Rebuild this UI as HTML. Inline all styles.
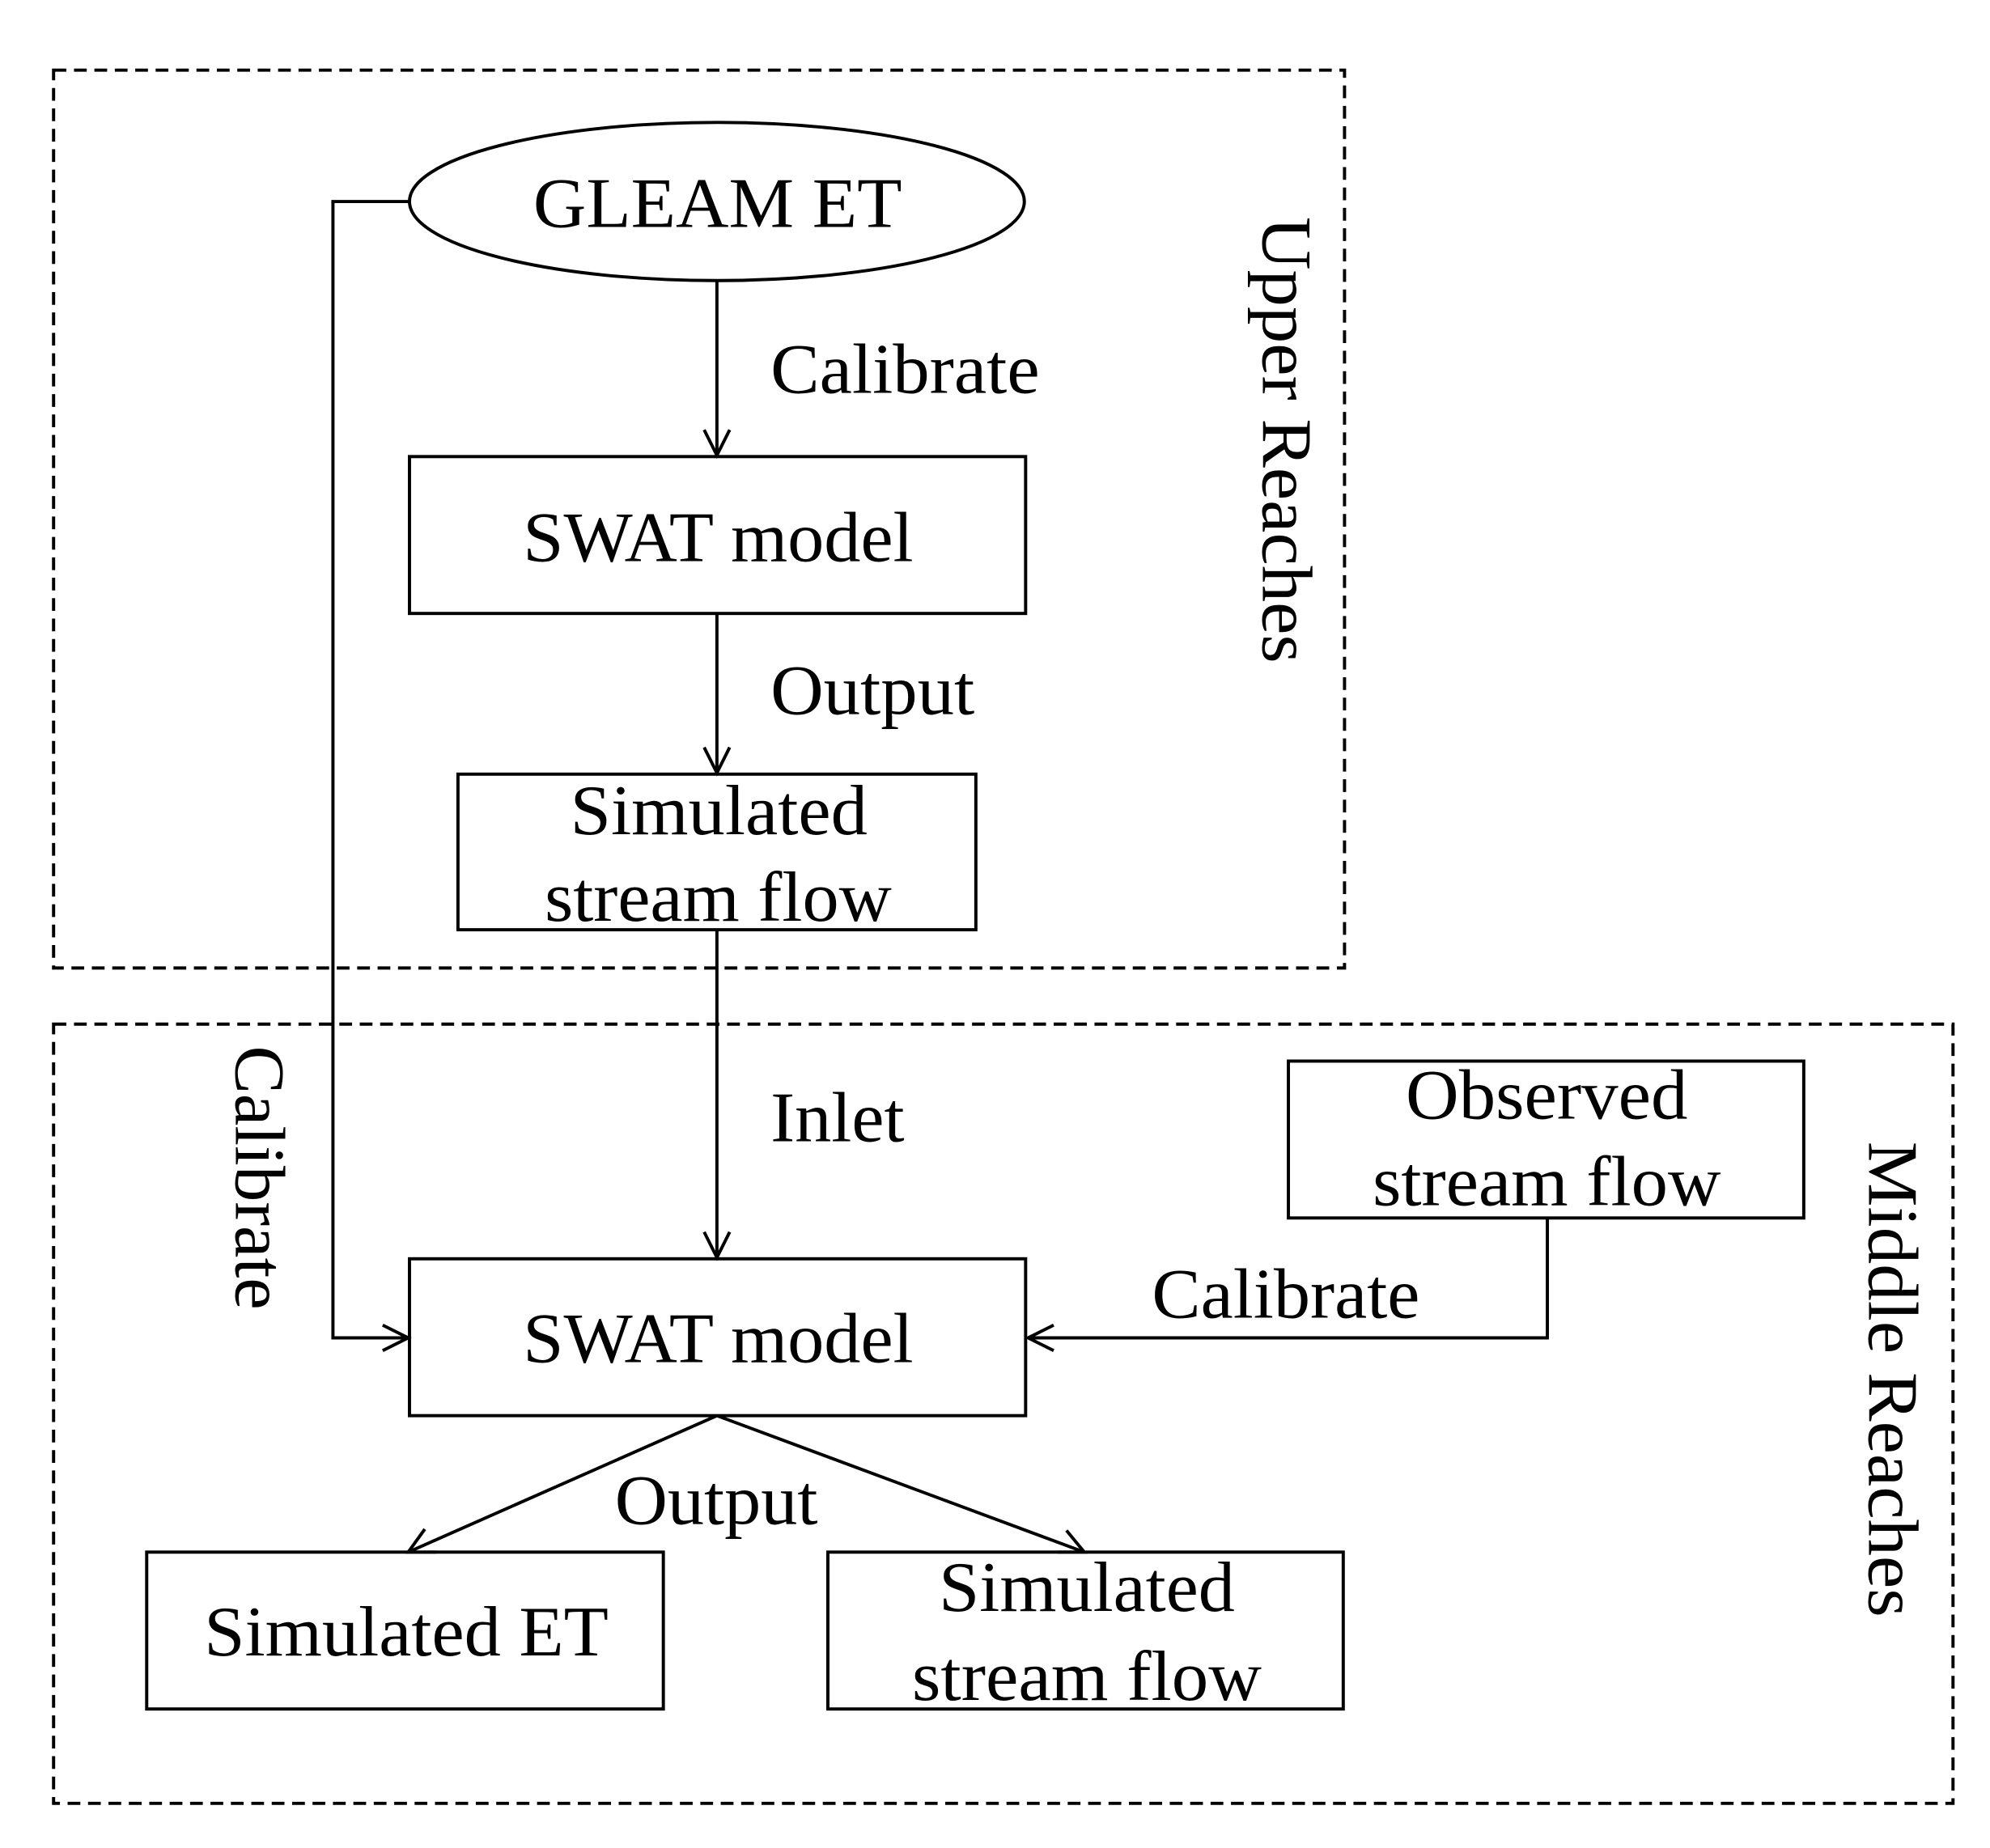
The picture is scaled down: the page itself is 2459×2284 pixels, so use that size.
<!DOCTYPE html>
<html><head><style>html,body{margin:0;padding:0;background:#fff}svg{display:block}</style></head>
<body>
<svg width="2459" height="2284" viewBox="0 0 1560 1449" preserveAspectRatio="none" xmlns="http://www.w3.org/2000/svg">
<rect width="1560" height="1449" fill="#fff"/>
<g fill="none" stroke="#000" stroke-width="2.5">
<rect x="42" y="55" width="1012" height="704" stroke-dasharray="10,6"/>
<rect x="42" y="803" width="1489" height="611" stroke-dasharray="10,6"/>
<ellipse cx="562" cy="158" rx="241" ry="62"/>
<rect x="321" y="358" width="483" height="123"/>
<rect x="359" y="607" width="406" height="122"/>
<rect x="321" y="987" width="483" height="123"/>
<rect x="1010" y="832" width="404" height="123"/>
<rect x="115" y="1217" width="405" height="123"/>
<rect x="649" y="1217" width="404" height="123"/>
<line x1="562" y1="220" x2="562" y2="357"/>
<polyline points="552,337 562,357 572,337"/>
<line x1="562" y1="481" x2="562" y2="606"/>
<polyline points="552,586 562,606 572,586"/>
<line x1="562" y1="729" x2="562" y2="986"/>
<polyline points="552,966 562,986 572,966"/>
<polyline points="321,158 261,158 261,1049 320,1049"/>
<polyline points="300,1039 320,1049 300,1059"/>
<polyline points="1213,955 1213,1049 806,1049"/>
<polyline points="826,1039 806,1049 826,1059"/>
<line x1="562" y1="1110" x2="320" y2="1217"/>
<polyline points="333,1199 320,1217 342,1217"/>
<line x1="562" y1="1110" x2="850" y2="1217"/>
<polyline points="829,1217 850,1217 836,1200"/>
</g>
<g font-family="Liberation Serif, serif" font-size="56" fill="#000" lengthAdjust="spacingAndGlyphs">
<text x="418" y="178" textLength="289" lengthAdjust="spacingAndGlyphs">GLEAM ET</text>
<text x="604" y="308" textLength="211" lengthAdjust="spacingAndGlyphs">Calibrate</text>
<text x="410" y="440" textLength="306" lengthAdjust="spacingAndGlyphs">SWAT model</text>
<text x="604" y="560" textLength="160" lengthAdjust="spacingAndGlyphs">Output</text>
<text x="447" y="654" textLength="233" lengthAdjust="spacingAndGlyphs">Simulated</text>
<text x="427" y="722" textLength="272" lengthAdjust="spacingAndGlyphs">stream flow</text>
<text x="604" y="895" textLength="105" lengthAdjust="spacingAndGlyphs">Inlet</text>
<text x="410" y="1068" textLength="306" lengthAdjust="spacingAndGlyphs">SWAT model</text>
<text x="1102" y="877" textLength="221" lengthAdjust="spacingAndGlyphs">Observed</text>
<text x="1076" y="945" textLength="273" lengthAdjust="spacingAndGlyphs">stream flow</text>
<text x="903" y="1033" textLength="210" lengthAdjust="spacingAndGlyphs">Calibrate</text>
<text x="482" y="1195" textLength="159" lengthAdjust="spacingAndGlyphs">Output</text>
<text x="160" y="1298" textLength="317" lengthAdjust="spacingAndGlyphs">Simulated ET</text>
<text x="736" y="1263" textLength="232" lengthAdjust="spacingAndGlyphs">Simulated</text>
<text x="715" y="1333" textLength="274" lengthAdjust="spacingAndGlyphs">stream flow</text>
<text transform="translate(990,170) rotate(90)" textLength="350" lengthAdjust="spacingAndGlyphs">Upper Reaches</text>
<text transform="translate(1465,895) rotate(90)" textLength="373" lengthAdjust="spacingAndGlyphs">Middle Reaches</text>
<text transform="translate(185,820) rotate(90)" textLength="207" lengthAdjust="spacingAndGlyphs">Calibrate</text>
</g>
</svg>
</body></html>
